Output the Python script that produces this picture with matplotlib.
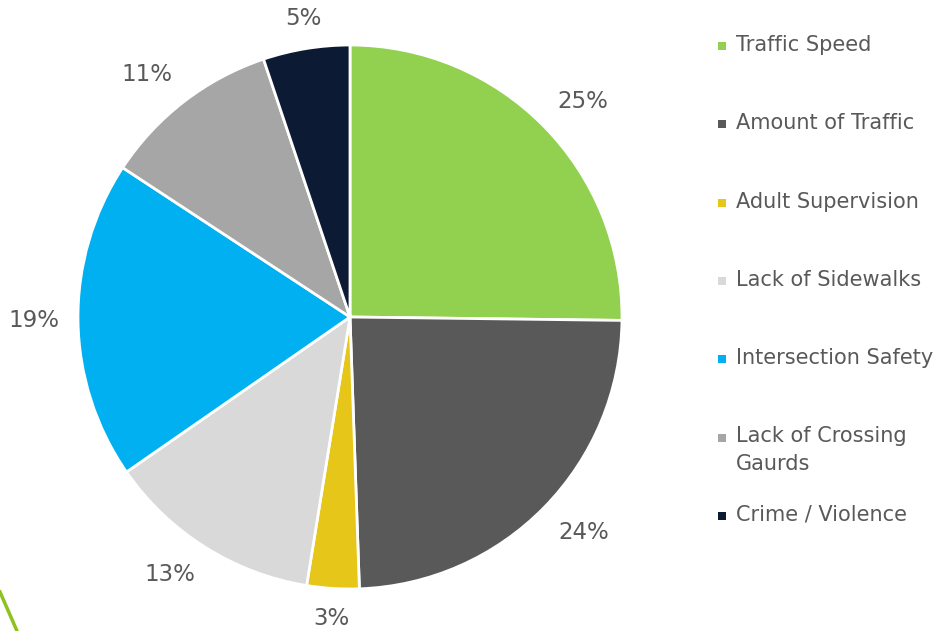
import numpy as np
import matplotlib.pyplot as plt
from matplotlib.lines import Line2D

labels = ["Traffic Speed", "Amount of Traffic", "Adult Supervision", "Lack of Sidewalks",
          "Intersection Safety", "Lack of Crossing\nGaurds", "Crime / Violence"]
values = [25.2, 24.25, 3.1, 12.8, 18.9, 10.6, 5.15]
colors = ["#92D050", "#595959", "#E6C619", "#D9D9D9", "#00B0F0", "#A6A6A6", "#0C1B33"]

TXT = "#595959"
W, H = 953, 631
fig = plt.figure(figsize=(W / 100, H / 100), dpi=100)

# pie axes: centre (350, 317), radius 272 px
cx, cy, r = 350, 317, 272
ax = fig.add_axes([(cx - r) / W, (H - cy - r) / H, 2 * r / W, 2 * r / H])
wedges, _, autotexts = ax.pie(values, colors=colors, startangle=90, counterclock=False,
                              autopct='%.0f%%', pctdistance=1.07,
                              wedgeprops=dict(edgecolor='white', linewidth=2),
                              textprops=dict(color=TXT, fontsize=16.5))
# "outside end" style: anchor each label on the side facing the pie
for w, t in zip(wedges, autotexts):
    ang = np.deg2rad((w.theta1 + w.theta2) / 2)
    c, s = np.cos(ang), np.sin(ang)
    t.set_ha('left' if c > 0.3 else 'right' if c < -0.3 else 'center')
    t.set_va('bottom' if s > 0.3 else 'top' if s < -0.3 else 'center')
ax.set_xlim(-1, 1)
ax.set_ylim(-1, 1)
ax.set_aspect('equal')
ax.axis('off')

# legend drawn by hand (PowerPoint-style spacing)
lx = fig.add_axes([0, 0, 1, 1])
lx.set_xlim(0, W)
lx.set_ylim(H, 0)
lx.axis('off')
for i, (lab, col) in enumerate(zip(labels, colors)):
    y = 45 + i * 78.3
    lx.scatter([722], [y + 1], marker='s', s=32, color=col, linewidths=0)
    for k, line in enumerate(lab.split("\n")):
        lx.text(736, y + k * 28, line, color=TXT, fontsize=15, va='center', ha='left')

# decorative green line bottom-left
fig.add_artist(Line2D([0 / W, 17 / W], [1 - 592 / H, 0], color="#8DC21F",
                      linewidth=2.5, transform=fig.transFigure))

fig.savefig("out.png", dpi=100)
